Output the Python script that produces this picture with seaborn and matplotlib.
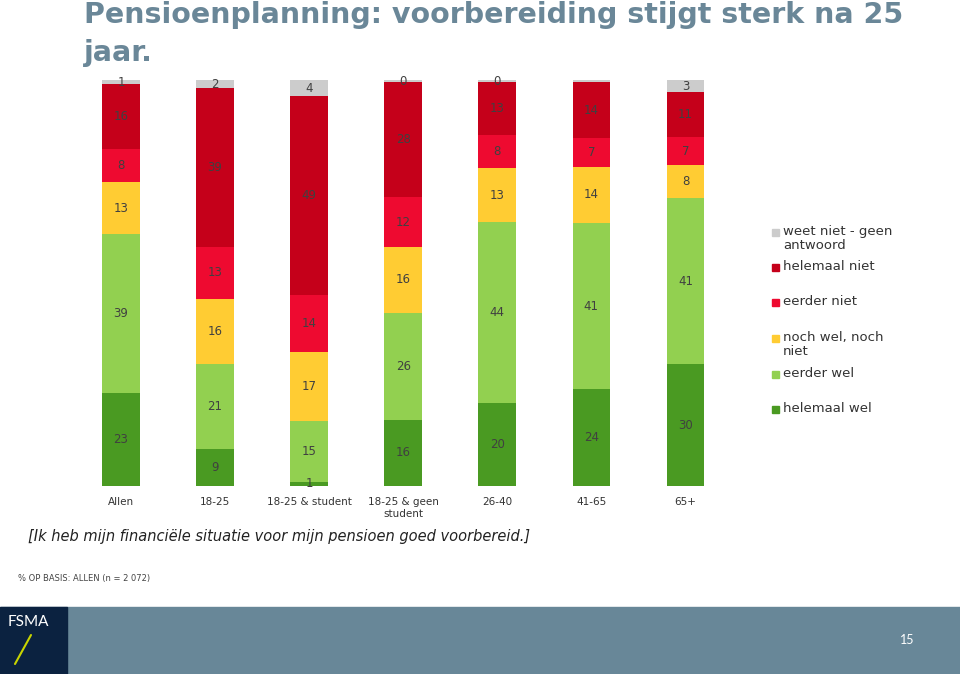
import matplotlib
matplotlib.use("Agg")
import matplotlib.pyplot as plt
import numpy as np
import seaborn as sns
from matplotlib.patches import Rectangle

sns.set_theme(style="white")
plt.rcParams["font.family"] = ["DejaVu Sans"]

# Data (percentages)
groups = ["Allen", "18-25", "18-25 & student", "18-25 & geen\nstudent", "26-40", "41-65", "65+"]
helemaal_wel = [23, 9, 1, 16, 20, 24, 30]
eerder_wel = [39, 21, 15, 26, 44, 41, 41]
noch_noch = [13, 16, 17, 16, 13, 14, 8]
eerder_niet = [8, 13, 14, 12, 8, 7, 7]
helemaal_niet = [16, 39, 49, 28, 13, 14, 11]
weet_niet = [1, 2, 4, 0.4, 0.4, 0.4, 3]
weet_niet_shown = [True, True, True, True, True, False, True]

series_names = ["helemaal wel", "eerder wel", "noch wel, noch\nniet", "eerder niet",
                "helemaal niet", "weet niet - geen\nantwoord"]
series_colors = ["#4a9a22", "#92d050", "#ffcc33", "#ee0a30", "#c5001a", "#cccccc"]

values = np.array([helemaal_wel, eerder_wel, noch_noch, eerder_niet, helemaal_niet, weet_niet], dtype=float)
# 100% stacked, as in the original chart
shares = values / values.sum(axis=0) * 100
tops = shares.cumsum(axis=0)

fig = plt.figure(figsize=(9.6, 6.74), dpi=100)
ax = fig.add_axes([0.077, 0.279, 0.686, 0.602])

# draw from the highest cumulative level down so each layer covers the one above
for i in range(len(series_names) - 1, -1, -1):
    sns.barplot(x=groups, y=tops[i], color=series_colors[i], width=0.4,
                saturation=1, ax=ax, linewidth=0)

label_color = "#404040"
for i in range(len(series_names)):
    for j in range(len(groups)):
        if i == 5 and not weet_niet_shown[j]:
            continue
        mid = tops[i][j] - shares[i][j] / 2
        ax.text(j, mid, f"{values[i][j]:.0f}", ha="center", va="center",
                fontsize=8.5, color=label_color)

ax.set_xlim(-0.5, 6.5)
ax.set_ylim(0, 100)
ax.set_yticks([])
ax.set_ylabel("")
ax.tick_params(axis="x", length=0, pad=8, labelsize=7.5, labelcolor="#333333")
for spine in ax.spines.values():
    spine.set_visible(False)

# legend drawn by hand to keep the even spacing of the original
leg_y = [232, 267, 302, 338, 374, 409]
leg_order = [5, 4, 3, 2, 1, 0]
for y, idx in zip(leg_y, leg_order):
    fig.patches.append(Rectangle((772 / 960, 1 - (y + 4) / 674), 7 / 960, 7 / 674,
                                 transform=fig.transFigure, color=series_colors[idx]))
    fig.text(783 / 960, 1 - (y - 7) / 674, series_names[idx], ha="left", va="top",
             fontsize=9.5, color="#333333", linespacing=1.1)

# title
fig.text(84 / 960, 1 - 1 / 674, "Pensioenplanning: voorbereiding stijgt sterk na 25\njaar.",
         ha="left", va="top", fontsize=20.5, fontweight="bold", color="#6a8798",
         linespacing=1.45)

fig.text(28 / 960, 1 - 537 / 674,
         "[Ik heb mijn financiële situatie voor mijn pensioen goed voorbereid.]",
         ha="left", va="center", fontsize=10.5, style="italic", color="#222222")
fig.text(18 / 960, 1 - 578 / 674, "% OP BASIS: ALLEN (n = 2 072)",
         ha="left", va="center", fontsize=6, color="#444444")

# footer band
fig.patches.append(Rectangle((0, 0), 1, 67 / 674, transform=fig.transFigure,
                             color="#688798", zorder=0))
fig.patches.append(Rectangle((0, 0), 67 / 960, 67 / 674, transform=fig.transFigure,
                             color="#0b2240", zorder=1))
fig.text(8 / 960, 1 - 622 / 674, "FSMA", ha="left", va="center", fontsize=11,
         color="white", family=["Lato", "DejaVu Sans"])
fig.lines.append(plt.Line2D([15 / 960, 31 / 960], [1 - 664 / 674, 1 - 635 / 674],
                            transform=fig.transFigure, color="#c8d400", linewidth=1.5))
fig.text(907 / 960, 1 - 640 / 674, "15", ha="center", va="center", fontsize=9,
         color="white", family=["Lato", "DejaVu Sans"])

fig.savefig("out.png", dpi=100)
